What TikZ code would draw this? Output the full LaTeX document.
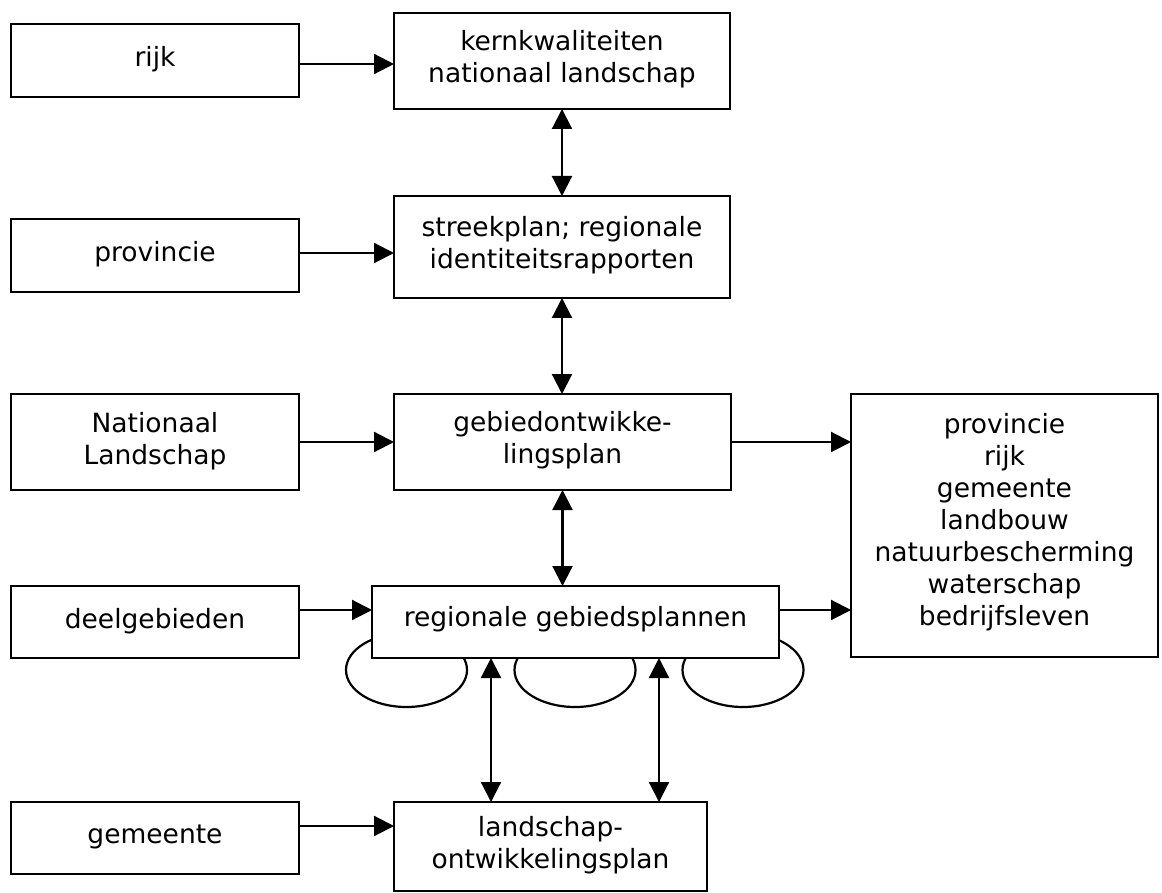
\documentclass[tikz,border=0pt]{standalone}
\usepackage{fontspec}
\setmainfont{DejaVu Sans}
\usetikzlibrary{arrows.meta}
\newcommand\mkbox[7]{%
  \node[box, minimum width={#4-#2}, minimum height={#5-#3}] (#1) at (#2,#3) {};
  \node[txt] (#1-t) at ([yshift=#6pt]#1.center) {#7};}
\begin{document}
\begin{tikzpicture}[x=1pt,y=-1pt,
  box/.style={draw, line width=2.2pt, fill=white, inner sep=0pt, outer sep=0pt, anchor=north west},
  txt/.style={font=\fontsize{26.5}{32}\selectfont, align=center, inner sep=0pt},
  arr/.style={line width=2.2pt, -{Triangle[length=20pt,width=20pt]}},
  darr/.style={line width=2.2pt, {Triangle[length=20pt,width=20pt]}-{Triangle[length=20pt,width=20pt]}},
  ringstyle/.style={draw, line width=2.2pt}]
\useasboundingbox (0,0) rectangle (1162,893);
% loops under the regional box
\draw[ringstyle] (406.5,670) ellipse [x radius=60.5, y radius=37];
\draw[ringstyle] (575,670) ellipse [x radius=60.5, y radius=37];
\draw[ringstyle] (743,670) ellipse [x radius=60.5, y radius=37];
% boxes
\mkbox{rijk}{11}{24}{299}{97}{1}{rijk}
\mkbox{kern}{394}{13}{730}{109}{2}{kernkwaliteiten\\nationaal landschap}
\mkbox{prov}{11}{219}{299}{292}{1}{provincie}
\mkbox{streek}{394}{196}{730}{298}{2}{streekplan; regionale\\identiteitsrapporten}
\mkbox{natl}{11}{394}{299}{490}{1}{Nationaal\\Landschap}
\mkbox{gebied}{394}{394}{731}{490}{2}{gebiedontwikke-\\lingsplan}
\mkbox{right}{851}{394}{1158}{657}{3}{provincie\\rijk\\gemeente\\landbouw\\natuurbescherming\\waterschap\\bedrijfsleven}
\mkbox{deel}{11}{586}{299}{658}{1}{deelgebieden}
\mkbox{regio}{372}{586}{779}{658}{3}{regionale gebiedsplannen}
\mkbox{gem}{11}{802}{299}{874}{1}{gemeente}
\mkbox{lands}{394}{802}{707}{891}{1}{landschap-\\ontwikkelingsplan}
% horizontal arrows
\draw[arr] ([yshift=-3.5pt]rijk.east) coordinate (a1) -- (a1 -| kern.west);
\draw[arr] ([yshift=2.5pt]prov.east) coordinate (a2) -- (a2 -| streek.west);
\draw[arr] (natl.east) coordinate (a3) -- (a3 -| gebied.west);
\draw[arr] (gebied.east) coordinate (a4) -- (a4 -| right.west);
\draw[arr] ([yshift=12pt]deel.east) coordinate (a5) -- (a5 -| regio.west);
\draw[arr] ([yshift=12pt]regio.east) coordinate (a6) -- (a6 -| right.west);
\draw[arr] ([yshift=12pt]gem.east) coordinate (a7) -- (a7 -| lands.west);
% vertical double arrows
\draw[darr] (kern.south) -- (kern.south |- streek.north);
\draw[darr] (streek.south) -- (streek.south |- gebied.north);
\draw[darr] (gebied.south) -- (gebied.south |- regio.north);
\draw[darr] ([xshift=-84.5pt]regio.south) coordinate (b1) -- (b1 |- lands.north);
\draw[darr] ([xshift=83.5pt]regio.south) coordinate (b2) -- (b2 |- lands.north);
\end{tikzpicture}
\end{document}
